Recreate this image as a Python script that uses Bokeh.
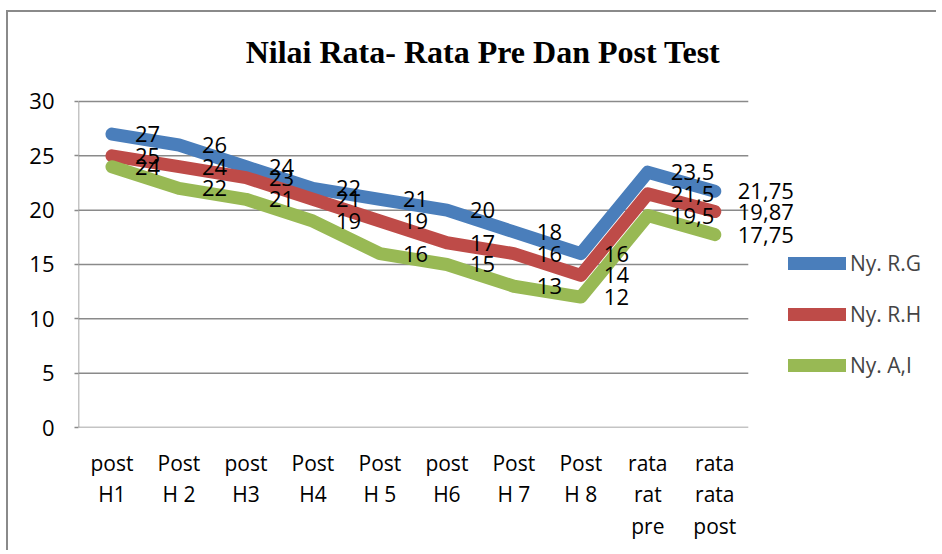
from bokeh.plotting import figure
from bokeh.models import Range1d, FixedTicker, Legend, LegendItem, Label, ColumnDataSource
from bokeh.core.properties import value
from bokeh.embed import file_html
from bokeh.resources import INLINE

categories = ["post\nH1", "Post\nH 2", "post\nH3", "Post\nH4", "Post\nH 5",
              "post\nH6", "Post\nH 7", "Post\nH 8", "rata\nrat\npre", "rata\nrata\npost"]
series_names = ["Ny. R.G", "Ny. R.H", "Ny. A,I"]
rg = [27, 26, 24, 22, 21, 20, 18, 16, 23.5, 21.75]
rh = [25, 24, 23, 21, 19, 17, 16, 14, 21.5, 19.87]
ai = [24, 22, 21, 19, 16, 15, 13, 12, 19.5, 17.75]
y_ticks = [0, 5, 10, 15, 20, 25, 30]
title_text = "Nilai Rata- Rata Pre Dan Post Test"

colors = ["#4a7ebb", "#be4b48", "#98b954"]
GRID = "#8a8a8a"
FONT = "Open Sans"

n = len(categories)
xs = [i + 0.5 for i in range(n)]
y_max = y_ticks[-1]

p = figure(width=930, height=540, output_backend="svg", toolbar_location=None,
           x_range=Range1d(0, 12.84), y_range=Range1d(0, 38.19),
           min_border_left=70, min_border_right=0, min_border_top=0, min_border_bottom=125)
p.styles = {"border-left": "2px solid #8a8a8a", "border-top": "2px solid #8a8a8a",
            "margin-left": "6px", "margin-top": "10px"}
p.outline_line_color = None
p.background_fill_color = "white"
p.border_fill_color = "white"
p.xgrid.grid_line_color = None
p.ygrid.grid_line_color = None

# grid lines and axis lines, limited to the chart area
grid_y = y_ticks[1:]
p.segment(x0=[0] * len(grid_y), y0=grid_y, x1=[n] * len(grid_y), y1=grid_y,
          line_color=GRID, line_width=1.5)
p.segment(x0=[0, 0], y0=[0, 0], x1=[n, 0], y1=[0, y_max], line_color=GRID, line_width=1.5)

# y axis
p.yaxis.ticker = FixedTicker(ticks=y_ticks)
p.yaxis.axis_line_color = None
p.yaxis.major_tick_line_color = GRID
p.yaxis.major_tick_line_width = 1.5
p.yaxis.major_tick_out = 4
p.yaxis.major_tick_in = 0
p.yaxis.minor_tick_line_color = None
p.yaxis.major_label_standoff = 20
p.yaxis.major_label_text_font = FONT
p.yaxis.major_label_text_font_size = "22px"
p.yaxis.major_label_text_color = "black"

# x axis
p.xaxis.ticker = FixedTicker(ticks=xs)
p.xaxis.major_label_overrides = {x: c for x, c in zip(xs, categories)}
p.xaxis.axis_line_color = None
p.xaxis.major_tick_line_color = None
p.xaxis.minor_tick_line_color = None
p.xaxis.major_label_standoff = 15
p.xaxis.major_label_text_font = FONT
p.xaxis.major_label_text_font_size = "21px"
p.xaxis.major_label_text_color = "black"
p.xaxis.major_label_text_line_height = 1.14

items = []
for name, vals, col in zip(series_names, [rg, rh, ai], colors):
    r = p.line(xs, vals, line_color=col, line_width=13, line_cap="round", line_join="round")
    items.append(LegendItem(label=name, renderers=[r]))

for vals in [rg, rh, ai]:
    labels = [("%g" % v).replace(".", ",") for v in vals]
    src = ColumnDataSource(dict(x=xs, y=vals, t=labels))
    p.text(x="x", y="y", text="t", source=src, x_offset=23, text_align="left",
           text_baseline="middle", text_font=value(FONT), text_font_size="22px",
           text_color="black")

legend = Legend(items=items, location=(710, 48), glyph_width=58, glyph_height=20,
                label_standoff=4, spacing=23, padding=0, margin=0,
                border_line_alpha=0, background_fill_alpha=0,
                label_text_font=FONT, label_text_font_size="21px", label_height=20)
p.add_layout(legend)

title = Label(x=404.5, y=376, x_units="screen", y_units="screen", text=title_text,
              text_align="center", text_baseline="alphabetic",
              text_font="Liberation Serif", text_font_style="bold", text_font_size="32px",
              text_color="black")
p.add_layout(title)

open("out.html", "w").write(file_html(p, INLINE))
